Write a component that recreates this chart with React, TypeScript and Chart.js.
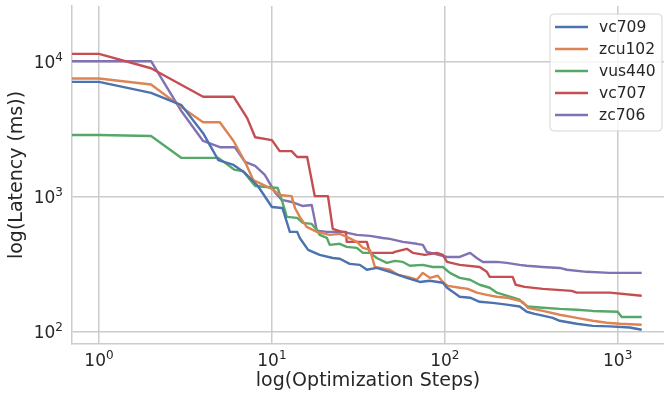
import React, { useEffect, useRef } from "react";
import { Chart, registerables } from "chart.js";

Chart.register(...registerables);

// ---------- data (step, latency ms); first point stands for step 0, clipped at the left edge ----------
const SERIES_NAMES = ["vc709", "zcu102", "vus440", "vc707", "zc706"];
const SERIES_COLORS = ["#4C72B0", "#DD8452", "#55A868", "#C44E52", "#8172B3"];

const VC709: [number, number][] = [
  [0.5, 7110], [1, 7110], [2, 5890], [3, 4780], [4, 2960], [4.9, 1870], [6, 1720], [6.9, 1520],
  [8.3, 1200], [10, 839], [11.5, 825], [12.7, 548], [14, 548], [14.5, 494], [16.2, 403], [18.9, 370],
  [22.5, 351], [24.7, 346], [28.2, 317], [32.3, 312], [35.4, 287], [40.4, 296], [48.1, 277], [60.3, 250],
  [71.7, 233], [81.9, 238], [97.4, 230], [103, 211], [122, 181], [140, 178], [159, 166], [189, 163],
  [228, 158], [271, 153], [298, 140], [331, 135], [369, 131], [421, 126], [462, 120], [579, 114],
  [717, 110], [899, 109], [1173, 107], [1377, 103],
];

const ZCU102: [number, number][] = [
  [0.5, 7530], [1, 7530], [2, 6800], [3, 4620], [4, 3570], [5, 3570], [6, 2590], [7, 1810],
  [7.8, 1330], [8.5, 1260], [10, 1140], [11.1, 1030], [13, 1010], [13.6, 825], [14.5, 708], [15.9, 597],
  [18.2, 548], [21.6, 521], [24.7, 530], [27.1, 503], [31, 462], [33.6, 417], [36.9, 403], [39.4, 301],
  [42.1, 296], [48.1, 287], [53.5, 263], [61.1, 254], [68.9, 242], [74.6, 272], [81.9, 250], [91.1, 259],
  [97.4, 233], [104, 218], [122, 211], [136, 207], [153, 194], [175, 187], [200, 181], [228, 178],
  [271, 169], [282, 166], [302, 150], [369, 142], [462, 133], [579, 126], [717, 120], [864, 116],
  [1027, 114], [1377, 112],
];

const VUS440: [number, number][] = [
  [0.5, 2870], [1, 2870], [2, 2820], [3, 1940], [4.9, 1940], [6.1, 1580], [6.8, 1550], [8, 1200],
  [10.8, 1160], [11.4, 946], [12.2, 708], [14, 696], [15.1, 639], [17, 628], [18.2, 567], [18.9, 521],
  [20.8, 494], [21.6, 439], [24.7, 447], [27.1, 424], [31, 417], [33.6, 383], [36.9, 383], [40.4, 351],
  [46.2, 323], [51.4, 334], [57.2, 328], [62.8, 307], [74.6, 312], [85.2, 301], [97.4, 301], [107, 272],
  [122, 250], [140, 242], [159, 222], [182, 211], [200, 194], [238, 181], [271, 172], [282, 163],
  [302, 153], [369, 150], [462, 147], [579, 145], [717, 142], [1000, 140], [1055, 128], [1377, 128],
];

const VC707: [number, number][] = [
  [0.5, 11470], [1, 11470], [2, 8980], [4, 5520], [6, 5520], [7.2, 3830], [8, 2760], [10, 2630],
  [11.1, 2180], [13, 2180], [14, 1970], [16, 1970], [17.7, 1010], [21.1, 1010], [22.5, 577], [25.4, 548],
  [26.8, 548], [27.1, 462], [35.4, 462], [36.9, 383], [50.1, 383], [51.4, 389], [60.3, 410], [65.3, 383],
  [76.6, 370], [89.9, 383], [97.4, 370], [103, 328], [122, 312], [159, 301], [175, 277], [182, 254],
  [247, 254], [257, 222], [290, 214], [369, 207], [542, 200], [579, 194], [899, 194], [1377, 184],
];

const ZC706: [number, number][] = [
  [0.5, 10120], [1, 10120], [2, 10120], [3, 4300], [4, 2590], [5, 2330], [6.1, 2330], [7, 1810],
  [8, 1690], [9.1, 1450], [10.4, 1080], [11.4, 946], [13, 914], [15, 853], [17, 868], [18.2, 560],
  [20.8, 548], [25.7, 548], [31, 521], [36.9, 512], [43.8, 494], [48.1, 486], [57.2, 462], [68.9, 447],
  [74.6, 439], [78.7, 389], [87.5, 376], [103, 357], [122, 357], [140, 383], [153, 351], [166, 328],
  [200, 328], [228, 323], [271, 312], [298, 307], [369, 301], [462, 296], [508, 287], [662, 277],
  [899, 272], [1377, 272],
];

const SERIES = [VC709, ZCU102, VUS440, VC707, ZC706];

const X_TICKS = [1, 10, 100, 1000];
const Y_TICKS = [100, 1000, 10000];
const X_LIMITS = [0.698, 1853];
const Y_LIMITS = [80.7, 26000];
const X_TITLE = "log(Optimization Steps)";
const Y_TITLE = "log(Latency (ms))";

// ---------- styling ----------
const FONT = '"DejaVu Sans", sans-serif';
const TEXT = "#262626";
const GRID = "#cccccc";

const powTickPlugin = {
  id: "powTicks",
  afterDraw(chart: any) {
    const { ctx, chartArea, scales } = chart;
    const mainSize = 17;
    const supSize = 12;
    const draw = (value: number, ax: number, baseline: number, align: "center" | "right") => {
      const exp = String(Math.round(Math.log10(value)));
      ctx.font = `${mainSize}px ${FONT}`;
      const w1 = ctx.measureText("10").width;
      ctx.font = `${supSize}px ${FONT}`;
      const w2 = ctx.measureText(exp).width;
      const total = w1 + w2;
      const left = align === "center" ? ax - total / 2 : ax - total;
      ctx.font = `${mainSize}px ${FONT}`;
      ctx.fillText("10", left, baseline);
      ctx.font = `${supSize}px ${FONT}`;
      ctx.fillText(exp, left + w1, baseline - 7);
    };
    ctx.save();
    ctx.fillStyle = TEXT;
    ctx.textAlign = "left";
    ctx.textBaseline = "alphabetic";
    X_TICKS.forEach((v) => draw(v, scales.x.getPixelForValue(v), chartArea.bottom + 22, "center"));
    Y_TICKS.forEach((v) => draw(v, chartArea.left - 9, scales.y.getPixelForValue(v) + 6.5, "right"));
    ctx.restore();
  },
};

const legendPlugin = {
  id: "boxLegend",
  afterDraw(chart: any) {
    const { ctx, chartArea } = chart;
    const w = 112;
    const h = 117;
    const left = chartArea.right - w - 2;
    const top = chartArea.top + 8;
    ctx.save();
    ctx.beginPath();
    if (ctx.roundRect) ctx.roundRect(left, top, w, h, 4);
    else ctx.rect(left, top, w, h);
    ctx.fillStyle = "rgba(255,255,255,0.8)";
    ctx.fill();
    ctx.strokeStyle = "rgba(204,204,204,0.8)";
    ctx.lineWidth = 1;
    ctx.stroke();
    chart.data.datasets.forEach((ds: any, i: number) => {
      const y = top + 13 + i * 22;
      ctx.beginPath();
      ctx.moveTo(left + 5, y);
      ctx.lineTo(left + 38, y);
      ctx.strokeStyle = ds.borderColor;
      ctx.lineWidth = 2.4;
      ctx.stroke();
      ctx.fillStyle = TEXT;
      ctx.font = `15.5px ${FONT}`;
      ctx.textAlign = "left";
      ctx.textBaseline = "middle";
      ctx.fillText(ds.label, left + 49, y + 1);
    });
    ctx.restore();
  },
};

export default function App() {
  const canvasRef = useRef<HTMLCanvasElement | null>(null);

  useEffect(() => {
    if (!canvasRef.current) return;
    const chart = new Chart(canvasRef.current, {
      type: "line",
      data: {
        datasets: SERIES.map((pts, i) => ({
          label: SERIES_NAMES[i],
          data: pts.map(([x, y]) => ({ x, y })),
          borderColor: SERIES_COLORS[i],
          backgroundColor: SERIES_COLORS[i],
          borderWidth: 2.4,
          borderJoinStyle: "round" as const,
          pointRadius: 0,
          pointHoverRadius: 0,
          fill: false,
          tension: 0,
        })),
      },
      options: {
        responsive: false,
        animation: false,
        devicePixelRatio: 1,
        layout: { padding: { top: 6, left: 0, right: 0, bottom: 0 } },
        plugins: {
          legend: { display: false },
          tooltip: { enabled: false },
        },
        events: [],
        scales: {
          x: {
            type: "logarithmic",
            position: "bottom",
            min: X_LIMITS[0],
            max: X_LIMITS[1],
            afterBuildTicks: (scale: any) => {
              scale.ticks = X_TICKS.map((v) => ({ value: v }));
            },
            afterFit: (scale: any) => {
              scale.height = 55;
            },
            ticks: { display: false },
            grid: { color: GRID, lineWidth: 1.5, drawTicks: false },
            border: { display: true, color: GRID, width: 1.5 },
            title: {
              display: true,
              text: X_TITLE,
              color: TEXT,
              font: { family: FONT, size: 19 },
              padding: { top: 0, bottom: 6.5 },
            },
          },
          y: {
            type: "logarithmic",
            position: "left",
            min: Y_LIMITS[0],
            max: Y_LIMITS[1],
            afterBuildTicks: (scale: any) => {
              scale.ticks = Y_TICKS.map((v) => ({ value: v }));
            },
            afterFit: (scale: any) => {
              scale.width = 72;
            },
            ticks: { display: false },
            grid: { color: GRID, lineWidth: 1.5, drawTicks: false },
            border: { display: true, color: GRID, width: 1.5 },
            title: {
              display: true,
              text: Y_TITLE,
              color: TEXT,
              font: { family: FONT, size: 19 },
              padding: { top: 5.5, bottom: 0 },
            },
          },
        },
      },
      plugins: [powTickPlugin, legendPlugin],
    });
    return () => chart.destroy();
  }, []);

  return (
    <div style={{ position: "absolute", left: 0, top: 0, width: 664, height: 399, background: "#ffffff" }}>
      <canvas ref={canvasRef} width={664} height={399} style={{ display: "block" }} />
    </div>
  );
}
